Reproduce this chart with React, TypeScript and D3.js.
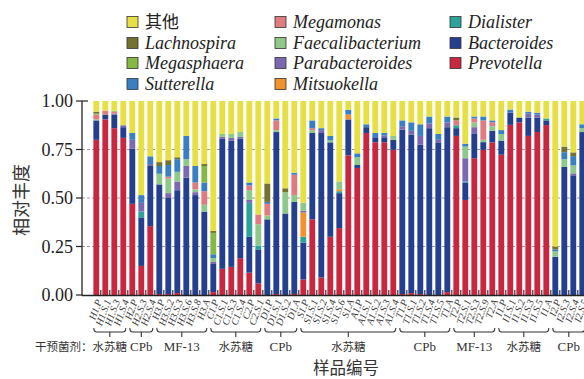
import React from "react";
import * as d3 from "d3";

const samples = ["H1.P","H1.S.1","H1.S.3","H1.S.4","H2.P","H2.S.3","H2.S.4","H3.P","H3.S.2","H3.S.3","H3.S.6","H3.S.8","H3.A","C1.P","C1.S.1","C1.S.3","C1.S.4","C2.P","C2.S.1","D1.P","D1.S.1","D1.S.2","D1.A","S1.P","S1.S.1","S1.S.2","S1.S.4","S1.S.6","S1.A","A1.P","A1.S.1","A1.S.2","A1.S.3","A1.S.4","T1.P","T1.S.1","T1.S.2","T1.S.4","T1.S.5","T1.A","T2.P","T2.S.1","T2.S.3","T2.S.9","T2.A","I1.P","I1.S.1","I1.S.2","I1.S.3","I1.S.5","I1.A","I2.P","I2.S.3","I2.S.4","I2.S.5"];

const prevotella = [.80,.905,.86,.81,.47,.15,.355,.005,.005,.01, 0,0,0,.015,.135,.145,.19,.115,.06,0, .005,0,.005,.08,.39,.09,.30,.345,.72,.655, .835,.787,.787,.748,.005,.01,.005,0,0,.015, .82,.49,.705,.748,.787,.723,.877,.89,.82,.84, .876,0,0,0,0];
const bacteroides = [.10,.025,.07,.055,.285,.25,.31,.565,.495,.53, .605,.515,.43,.145,.67,.65,.615,.185,.175,.39, .835,.42,.475,.19,.445,.745,.487,.18,.185,.015, .03,.026,.026,.052,.847,.816,.77,.86,.787,.85, .04,.09,.125,.04,.06,.073,.063,.025,.095,.075, .024,.197,.66,.617,.84];
const dialister = [0,0,0,0,0,.03,0,0,0,0, 0,0,0,0,0,0,0,.175,.02,0, 0,0,0,.03,0,0,0,.01,0,0, 0,0,0,0,0,0,0,0,0,0, .015,.005,0,0,0,0,0,0,0,0, .01,0,0,0,0];
const mitsuokella = [0,0,0,0,0,0,0,0,0,0, 0,0,0,0,0,0,0,0,0,0, 0,0,0,.125,0,0,0,.01,.025,0, 0,0,0,0,0,0,0,0,0,0, 0,0,0,0,0,0,0,0,0,0, 0,0,0,0,0];
const parabacteroides = [0,0,.005,.01,.045,.045,.01,0,.025,.045, .06,.015,0,.01,.01,.015,.01,.015,0,0, 0,0,0,.01,0,.015,0,0,0,0, 0,0,.01,0,.018,.02,.045,.025,.013,.025, 0,.12,.035,0,0,0,0,0,.02,.015, 0,0,0,.01,0];
const faecalibacterium = [.005,0,0,0,0,0,0,.055,.075,.05, .035,.015,.035,.02,.015,.02,.025,.05,.11,.02, .01,.11,.035,.04,.015,0,.01,.04,0,.04, 0,0,0,.02,0,0,0,0,0,0, 0,.06,.025,.012,.023,.034,0,0,0,0, 0,.028,.04,.041,.02];
const megamonas = [.025,.02,.01,0,0,0,0,0,.01,0, 0,.035,.07,0,0,0,0,.025,.05,.06, .05,0,.105,0,.01,0,0,0,0,0, 0,0,0,0,0,0,0,0,0,0, .025,0,.02,.10,.02,0,0,0,0,0, 0,0,0,0,0];
const sutterella = [0,0,0,0,.035,.04,.04,.04,.06,.065, .12,.085,.045,.02,0,0,0,.015,0,.01, .01,0,.01,0,.04,.01,.023,0,.025,.02, .015,.022,.012,0,.03,.044,.06,.035,.03,.03, 0,.015,.01,.02,.01,.02,.016,0,.01,.01, 0,.01,.036,.048,.02];
const megasphaera = [.005,0,.005,0,0,0,0,0,0,0, 0,0,.085,.11,0,0,0,0,0,0, 0,0,0,0,0,0,0,0,0,0, 0,0,0,0,0,0,0,0,0,0, 0,0,0,0,0,0,0,0,0,0, 0,0,0,0,0];
const lachnospira = [.01,0,0,0,0,0,0,.02,.025,.01, 0,0,.01,.01,0,0,0,0,0,.095, 0,.02,0,0,0,0,0,0,0,0, 0,0,0,0,0,0,0,0,0,0, .015,0,0,0,0,0,0,0,0,0, 0,.015,.029,.019,0];
const other = [.055,.05,.05,.125,.165,.485,.285,.315,.305,.29, .18,.335,.325,.67,.17,.17,.16,.42,.585,.425, .09,.45,.37,.525,.10,.14,.18,.415,.045,.27, .12,.165,.165,.18,.10,.11,.12,.08,.17,.08, .085,.22,.08,.08,.10,.15,.044,.085,.055,.06, .09,.75,.235,.265,.12];

const seriesNames = ["Prevotella","Bacteroides","Dialister","Mitsuokella","Parabacteroides","Faecalibacterium","Megamonas","Sutterella","Megasphaera","Lachnospira","其他"];
const seriesValues = [prevotella,bacteroides,dialister,mitsuokella,parabacteroides,faecalibacterium,megamonas,sutterella,megasphaera,lachnospira,other];
const seriesColors = ["#c8283f","#253f8f","#2ba39a","#f0922e","#7b68b0","#8ec98a","#e07b7f","#3a7fc1","#86b943","#737230","#e6e045"];

const legendColumns = [["其他","Lachnospira","Megasphaera","Sutterella"],["Megamonas","Faecalibacterium","Parabacteroides","Mitsuokella"],["Dialister","Bacteroides","Prevotella"]];

const groups = [
  { label: "水苏糖", start: 0, end: 3 },
  { label: "CPb", start: 4, end: 6 },
  { label: "MF-13", start: 7, end: 12 },
  { label: "水苏糖", start: 13, end: 18 },
  { label: "CPb", start: 19, end: 22 },
  { label: "水苏糖", start: 23, end: 33 },
  { label: "CPb", start: 34, end: 39 },
  { label: "MF-13", start: 40, end: 44 },
  { label: "水苏糖", start: 45, end: 50 },
  { label: "CPb", start: 51, end: 54 },
];

const yTicks = [0, 0.25, 0.5, 0.75, 1];
const gridTicks = [0.25, 0.5, 0.75];

const SERIF = "'Liberation Serif', 'Times New Roman', serif";
const CJK = "'Noto Sans CJK SC', sans-serif";

export default function App() {
  const W = 584, H = 379;
  const axisX = 82;
  const x = d3.scaleBand<string>().domain(samples).range([91.8, 586.8]).paddingInner(0.35).paddingOuter(0.175);
  const y = d3.scaleLinear().domain([0, 1]).range([295, 101]);
  const bw = x.bandwidth();
  const step = x.step();

  const rows = samples.map((s, i) => {
    const r: any = { sample: s };
    seriesNames.forEach((n, k) => (r[n] = seriesValues[k][i]));
    return r;
  });
  const stacked = d3.stack().keys(seriesNames)(rows);
  const cx = (s: string) => (x(s) as number) + bw / 2;

  const legendX = [127, 275, 450];
  const legendY = [22, 43, 63, 84];

  return (
    <svg width={W} height={H} style={{ position: "absolute", left: 0, top: 0, background: "#fff" }}>
      {gridTicks.map((t) => (
        <line key={t} x1={axisX} x2={W} y1={y(t)} y2={y(t)} stroke="#9a9a9a" strokeWidth={1} strokeDasharray="3,2" />
      ))}
      {stacked.map((layer, k) => (
        <g key={layer.key} fill={seriesColors[k]}>
          {layer.map((d, i) =>
            d[1] - d[0] > 0 ? (
              <rect key={i} x={x(samples[i])} width={bw} y={y(d[1])} height={y(d[0]) - y(d[1])} />
            ) : null
          )}
        </g>
      ))}
      {samples.map((s) => (
        <line key={s} x1={(x(s) as number) + bw + (step - bw) / 2} x2={(x(s) as number) + bw + (step - bw) / 2} y1={290} y2={295} stroke="#333" strokeWidth={1.2} />
      ))}
      <line x1={axisX} x2={axisX} y1={y(1)} y2={y(0) + 0.5} stroke="#222" strokeWidth={1.3} />
      <line x1={axisX} x2={W} y1={y(0) + 0.5} y2={y(0) + 0.5} stroke="#222" strokeWidth={1.3} />
      {yTicks.map((t) => (
        <g key={t}>
          <line x1={axisX - 6} x2={axisX} y1={y(t)} y2={y(t)} stroke="#222" strokeWidth={1.2} />
          <text x={axisX - 9} y={y(t)} dy="0.35em" textAnchor="end" fontFamily={SERIF} fontSize={18} fill="#222">
            {t.toFixed(2)}
          </text>
        </g>
      ))}
      <line x1={axisX} x2={axisX + 6} y1={y(1)} y2={y(1)} stroke="#222" strokeWidth={1.2} />
      <text transform={`translate(28,200) rotate(-90)`} textAnchor="middle" fontFamily={CJK} fontSize={18} fill="#333">
        相对丰度
      </text>
      {samples.map((s) => (
        <text key={s} transform={`translate(${cx(s) + 3},300) rotate(-70)`} textAnchor="end" dy="0.3em" fontFamily={SERIF} fontStyle="italic" fontSize={10} fill="#333">
          {s}
        </text>
      ))}
      {groups.map((g, i) => {
        const x1 = cx(samples[g.start]) - 2.5;
        const x2 = cx(samples[g.end]) + 2.5;
        const m = (x1 + x2) / 2;
        const latin = /[A-Za-z]/.test(g.label);
        return (
          <g key={i}>
            <path d={`M${x1},328 Q${x1},332 ${x1 + 3},332 L${x2 - 3},332 Q${x2},332 ${x2},328 M${m},332 L${m},337`} fill="none" stroke="#333" strokeWidth={1.1} />
            <text x={m} y={351} textAnchor="middle" fontFamily={latin ? SERIF : CJK} fontSize={latin ? 13 : 11.5} fill="#333">
              {g.label}
            </text>
          </g>
        );
      })}
      <text x={35} y={351} fontFamily={CJK} fontSize={11.5} fill="#333">干预菌剂：</text>
      <text x={346} y={374} textAnchor="middle" fontFamily={CJK} fontSize={16.5} fill="#333">样品编号</text>
      {legendColumns.map((col, ci) =>
        col.map((name, ri) => {
          const k = seriesNames.indexOf(name);
          const isCJK = name === "其他";
          return (
            <g key={name}>
              <rect x={legendX[ci]} y={legendY[ri] - 5.5} width={11} height={11} fill={seriesColors[k]} stroke="#333" strokeWidth={0.8} />
              <text x={legendX[ci] + 18} y={legendY[ri]} dy="0.35em" fontFamily={isCJK ? CJK : SERIF} fontStyle={isCJK ? "normal" : "italic"} fontSize={isCJK ? 17 : 18} fill="#222">
                {name}
              </text>
            </g>
          );
        })
      )}
    </svg>
  );
}
